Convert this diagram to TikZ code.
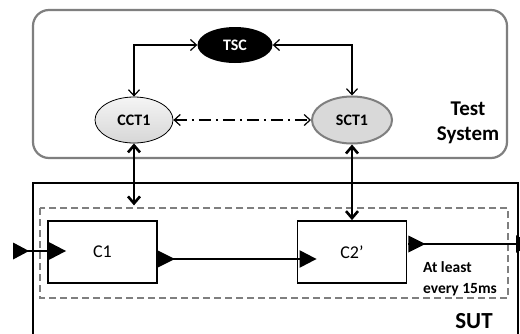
\documentclass[tikz,border=0pt]{standalone}
\usepackage{fontspec}
\setmainfont{Carlito}
\usetikzlibrary{arrows.meta,shapes.geometric,calc}
\definecolor{frame}{HTML}{7F7F7F}
\definecolor{ellfill}{HTML}{D9D9D9}
\tikzset{
  ell/.style={ellipse, inner sep=0pt, font=\fontsize{16}{18}\selectfont\bfseries},
  comp/.style={draw, line width=1.8pt, minimum width=109pt, minimum height=62pt, inner sep=0pt, font=\fontsize{18}{20}\selectfont},
  barb/.style={{Straight Barb[length=6pt,width=11pt]}-{Straight Barb[length=6pt,width=11pt]}, line width=1.2pt},
  thickbarb/.style={{Straight Barb[length=7pt,width=12pt]}-{Straight Barb[length=7pt,width=12pt]}, line width=2.6pt},
  flow/.style={-{Triangle[length=17pt,width=17pt]}, line width=2.2pt},
  lbl/.style={inner sep=0pt, font=\bfseries}
}
\begin{document}
\begin{tikzpicture}[x=1pt,y=-1pt]
\useasboundingbox (0,0) rectangle (520,333);
\clip (0,0) rectangle (520,333);
\fill[white] (0,0) rectangle (520,333);
% Test system frame
\draw[frame, line width=2.2pt, rounded corners=16pt] (33,10) rectangle (507,158);
% SUT frame
\draw[line width=1.8pt] (33,183) rectangle (518,345);
% dashed group
\draw[frame, line width=2pt, dash pattern=on 7pt off 4pt] (40,208) rectangle (508,298);
% nodes
\node[ell, fill=black, text=white, minimum width=75pt, minimum height=36pt] (TSC) at (235,45) {TSC};
\node[ell, draw=black, line width=0.8pt, top color=gray!8, bottom color=gray!32, minimum width=78pt, minimum height=46pt] (CCT1) at (134,120) {CCT1};
\node[ell, draw=frame, line width=2pt, fill=ellfill, minimum width=80pt, minimum height=47pt] (SCT1) at (352,120) {SCT1};
\node[comp] (C1) at (102.5,252) {C1};
\node[comp] (C2) at (352,252) {C2’};
\node[lbl, font=\fontsize{21}{25}\selectfont\bfseries, align=center, anchor=base] (TS) at (468,140) {Test\\System};
\node[lbl, font=\fontsize{15.5}{21}\selectfont\bfseries, align=left, anchor=base west] (AL) at (423,293) {At least\\every 15ms};
\node[lbl, font=\fontsize{23}{25}\selectfont\bfseries, anchor=base] (SUT) at (474,328) {SUT};
% coordinates
\coordinate (dtop) at ($(CCT1.south)+(0,62)$);
\coordinate (in) at (13,251);
\coordinate (out) at (533,244);
% test system connectors
\draw[barb] (TSC.west) -| (CCT1.north);
\draw[barb] (TSC.east) -| (SCT1.north);
\draw[barb, dash pattern=on 12pt off 5pt on 2pt off 5pt] (CCT1.east) -- (SCT1.west);
\draw[thickbarb] (CCT1.south) -- (dtop);
\draw[thickbarb] (SCT1.south) -- (C2.north);
% data flow
\fill (in) -- ++(0,-8.5) -- ++(16,8.5) -- ++(-16,8.5) -- cycle;
\draw[flow] (in) -- ($(C1.west)+(19,-1)$);
\fill ($(C1.east)+(0,7)$) -- ++(0,-8.5) -- ++(17,8.5) -- ++(-17,8.5) -- cycle;
\draw[flow] ($(C1.east)+(0,7)$) -- ($(C2.west)+(20,7)$);
\fill ($(C2.east)+(1,-8)$) -- ++(0,-8.5) -- ++(17,8.5) -- ++(-17,8.5) -- cycle;
\draw[flow] ($(C2.east)+(1,-8)$) -- (out);
\end{tikzpicture}
\end{document}
